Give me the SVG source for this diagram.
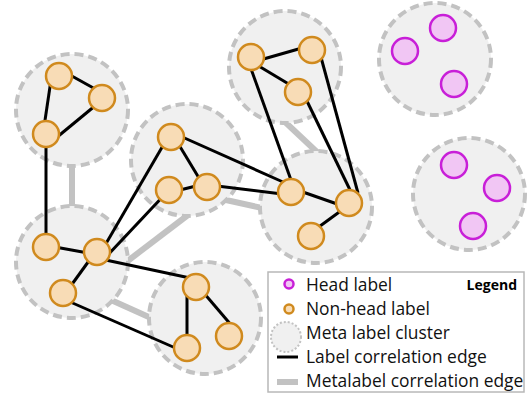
<svg xmlns="http://www.w3.org/2000/svg" width="531" height="396" viewBox="0 0 531 396">
<defs>
<style>
.cluster{fill:#f0f0f0;stroke:#c2c2c2;stroke-width:4;stroke-dasharray:9 5}
.meta{stroke:#c2c2c2;stroke-width:6;fill:none}
.edge{stroke:#000;stroke-width:3;fill:none;stroke-linecap:butt}
.nh{fill:#f8dcb6;stroke:#d08a1e;stroke-width:2.5}
.hd{fill:#f1c6f4;stroke:#c81fd8;stroke-width:2.5}
.lt{font-family:"Open Sans","Liberation Sans",sans-serif;font-size:17.4px;fill:#111}
.lg{font-family:"Open Sans","Liberation Sans",sans-serif;font-size:14px;font-weight:bold;fill:#000}
</style>
</defs>
<rect width="531" height="396" fill="#fff"/>
<g id="metalabel-edges">
<line class="meta" x1="72" y1="160" x2="72" y2="212"/>
<line class="meta" x1="125" y1="263" x2="188" y2="215"/>
<line class="meta" x1="111" y1="300" x2="151" y2="318"/>
<line class="meta" x1="226" y1="200" x2="262" y2="208"/>
<line class="meta" x1="284" y1="121" x2="318" y2="153"/>
</g>
<g id="cluster-1"><circle class="cluster" cx="72" cy="110" r="56"/></g>
<g id="cluster-2"><circle class="cluster" cx="187" cy="160" r="56"/></g>
<g id="cluster-3"><circle class="cluster" cx="285" cy="67" r="56"/></g>
<g id="cluster-4"><circle class="cluster" cx="316" cy="207" r="56"/></g>
<g id="cluster-5"><circle class="cluster" cx="72" cy="262" r="56"/></g>
<g id="cluster-6"><circle class="cluster" cx="205" cy="318" r="56"/></g>
<g id="cluster-7"><circle class="cluster" cx="435" cy="59" r="56"/></g>
<g id="cluster-8"><circle class="cluster" cx="469" cy="194" r="56"/></g>
<g id="label-edges">
<line class="edge" x1="70" y1="75" x2="97" y2="90"/>
<line class="edge" x1="51" y1="80" x2="44" y2="127"/>
<line class="edge" x1="96" y1="105" x2="56" y2="138"/>
<line class="edge" x1="46" y1="134" x2="46" y2="247"/>
<line class="edge" x1="55" y1="247" x2="88" y2="253"/>
<line class="edge" x1="91" y1="258" x2="70" y2="287"/>
<line class="edge" x1="104" y1="247" x2="168" y2="137"/>
<line class="edge" x1="105" y1="258" x2="169" y2="190"/>
<line class="edge" x1="101" y1="259" x2="190" y2="278"/>
<line class="edge" x1="68" y1="301" x2="180" y2="350"/>
<line class="edge" x1="187" y1="292" x2="187" y2="340"/>
<line class="edge" x1="203" y1="292" x2="232" y2="326"/>
<line class="edge" x1="176" y1="140" x2="202" y2="183"/>
<line class="edge" x1="180" y1="190" x2="196" y2="186"/>
<line class="edge" x1="180" y1="136" x2="283" y2="182"/>
<line class="edge" x1="217" y1="186" x2="282" y2="194"/>
<line class="edge" x1="260" y1="60" x2="302" y2="48"/>
<line class="edge" x1="257" y1="65" x2="292" y2="86"/>
<line class="edge" x1="250" y1="66" x2="291" y2="180"/>
<line class="edge" x1="305" y1="97" x2="351" y2="192"/>
<line class="edge" x1="319" y1="50" x2="358" y2="193"/>
<line class="edge" x1="300" y1="191" x2="340" y2="205"/>
<line class="edge" x1="342" y1="210" x2="316" y2="229"/>
</g>
<g id="n1"><circle class="nh" cx="59" cy="76" r="13"/></g>
<g id="n2"><circle class="nh" cx="102" cy="98" r="13"/></g>
<g id="n3"><circle class="nh" cx="46" cy="134" r="13"/></g>
<g id="n4"><circle class="nh" cx="171" cy="137" r="13"/></g>
<g id="n5"><circle class="nh" cx="169" cy="190" r="13"/></g>
<g id="n6"><circle class="nh" cx="207" cy="187" r="13"/></g>
<g id="n7"><circle class="nh" cx="251" cy="57" r="13"/></g>
<g id="n8"><circle class="nh" cx="312" cy="50" r="13"/></g>
<g id="n9"><circle class="nh" cx="298" cy="92" r="13"/></g>
<g id="n10"><circle class="nh" cx="291" cy="192" r="13"/></g>
<g id="n11"><circle class="nh" cx="349" cy="203" r="13"/></g>
<g id="n12"><circle class="nh" cx="311" cy="236" r="13"/></g>
<g id="n13"><circle class="nh" cx="46" cy="247" r="13"/></g>
<g id="n14"><circle class="nh" cx="97" cy="252" r="13"/></g>
<g id="n15"><circle class="nh" cx="63" cy="293" r="13"/></g>
<g id="n16"><circle class="nh" cx="196" cy="287" r="13"/></g>
<g id="n17"><circle class="nh" cx="187" cy="348" r="13"/></g>
<g id="n18"><circle class="nh" cx="229" cy="336" r="13"/></g>
<g id="h1"><circle class="hd" cx="405" cy="51" r="13"/></g>
<g id="h2"><circle class="hd" cx="443" cy="28" r="13"/></g>
<g id="h3"><circle class="hd" cx="454" cy="84" r="13"/></g>
<g id="h4"><circle class="hd" cx="454" cy="165" r="13"/></g>
<g id="h5"><circle class="hd" cx="497" cy="188" r="13"/></g>
<g id="h6"><circle class="hd" cx="473" cy="226" r="13"/></g>
<g id="legend">
<rect x="268" y="272" width="256" height="120" fill="#fff" stroke="#b8b8b8" stroke-width="1.5"/>
<text class="lg" x="517" y="290" text-anchor="end">Legend</text>
<circle class="hd" cx="289" cy="284" r="4.5"/>
<text class="lt" x="306" y="290.5">Head label</text>
<circle class="nh" cx="289" cy="309" r="4.5"/>
<text class="lt" x="306" y="314.5">Non-head label</text>
<circle cx="286" cy="337" r="15" fill="#f0f0f0" stroke="#c2c2c2" stroke-width="2" stroke-dasharray="2 2"/>
<text class="lt" x="306" y="338.5">Meta label cluster</text>
<line class="edge" x1="277" y1="357" x2="298" y2="357"/>
<text class="lt" x="306" y="362.5">Label correlation edge</text>
<line class="meta" x1="277" y1="382" x2="298" y2="382"/>
<text class="lt" x="306" y="386.5">Metalabel correlation edge</text>
</g>
</svg>
